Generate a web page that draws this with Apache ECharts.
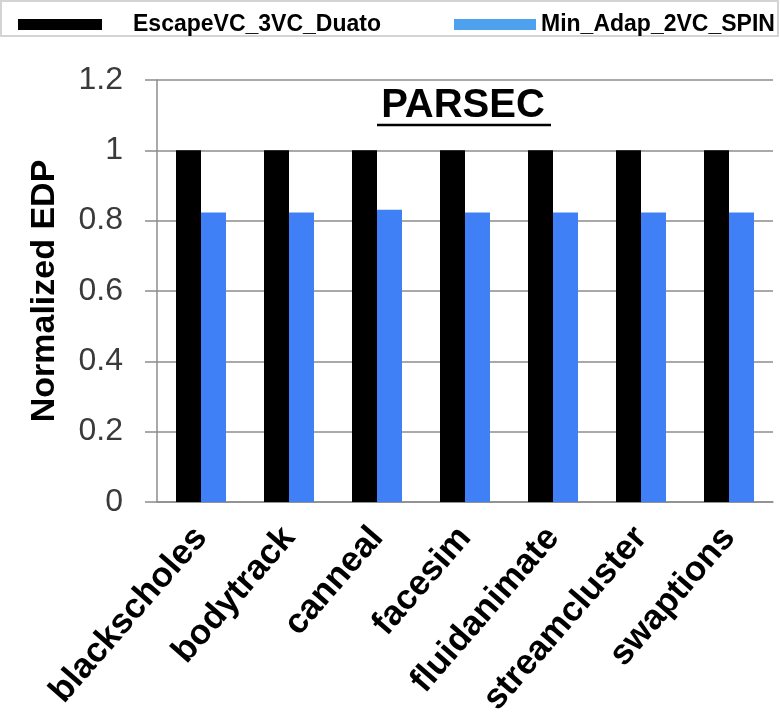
<!DOCTYPE html>
<html>
<head>
<meta charset="utf-8">
<script src="https://cdn.jsdelivr.net/npm/echarts@6/dist/echarts.min.js"></script>
<style>
  html, body { margin: 0; padding: 0; background: #ffffff; }
  #chart { width: 780px; height: 721px; }
</style>
</head>
<body>
<div id="chart"></div>
<script>
// PARSEC benchmarks, EDP normalised to the Duato escape-VC baseline
const benchmarks = ['blackscholes', 'bodytrack', 'canneal', 'facesim', 'fluidanimate', 'streamcluster', 'swaptions'];
const escapeDuato = [1, 1, 1, 1, 1, 1, 1];
const minAdapSpin = [0.823, 0.823, 0.831, 0.823, 0.823, 0.823, 0.823];
const seriesNames = ['EscapeVC_3VC_Duato', 'Min_Adap_2VC_SPIN'];
const yTicks = { min: 0, max: 1.2, step: 0.2 };

const chart = echarts.init(document.getElementById('chart'), null, { renderer: 'canvas' });

const labelFont = 'Liberation Sans, Arial, Helvetica, sans-serif';
const legendText = { fontFamily: labelFont, fontWeight: 'bold', fontSize: 23, color: '#000' };

chart.setOption({
  backgroundColor: '#ffffff',
  animation: false,
  graphic: [
    {
      type: 'rect', z: 0,
      shape: { x: 1, y: 1, width: 777, height: 35 },
      style: { fill: '#ffffff', stroke: '#d4d4d4', lineWidth: 2 }
    },
    {
      type: 'text', z: 10,
      x: 463, y: 106,
      style: {
        text: 'PARSEC', fill: '#000', font: 'bold 40px ' + labelFont,
        align: 'center', verticalAlign: 'middle'
      }
    },
    {
      type: 'line', z: 10,
      shape: { x1: 377, y1: 125, x2: 551, y2: 125 },
      style: { stroke: '#000', lineWidth: 2.5 }
    }
  ],
  legend: [
    {
      data: [{ name: seriesNames[0], itemStyle: { color: '#000000' } }],
      left: 13, top: 8, icon: 'rect', itemWidth: 84, itemHeight: 11,
      textStyle: Object.assign({ padding: [0, 0, 0, 26] }, legendText),
      selectedMode: false
    },
    {
      data: [{ name: seriesNames[1], itemStyle: { color: '#4ea1ef' } }],
      left: 449, top: 8, icon: 'rect', itemWidth: 82, itemHeight: 11,
      textStyle: legendText,
      selectedMode: false
    }
  ],
  grid: { left: 157, right: 7, top: 80, bottom: 219, containLabel: false },
  xAxis: {
    type: 'category',
    data: benchmarks,
    axisLine: { show: true, lineStyle: { color: '#8c8c8c', width: 1.5 } },
    axisTick: { show: false },
    axisLabel: {
      interval: 0, rotate: 49, margin: 30,
      fontFamily: labelFont, fontWeight: 'bold', fontSize: 35, color: '#000'
    }
  },
  yAxis: {
    type: 'value',
    min: yTicks.min, max: yTicks.max, interval: yTicks.step,
    name: 'Normalized EDP',
    nameLocation: 'middle', nameRotate: 90, nameGap: 95,
    nameTextStyle: { fontFamily: labelFont, fontWeight: 'bold', fontSize: 34, color: '#000' },
    axisLine: { show: true, lineStyle: { color: '#8c8c8c', width: 1.5 } },
    axisTick: { show: true, inside: false, length: 12, lineStyle: { color: '#8c8c8c', width: 1.5 } },
    splitLine: { show: true, lineStyle: { color: '#8c8c8c', width: 1.5 } },
    axisLabel: {
      margin: 34, fontFamily: labelFont, fontSize: 32, color: '#3a3a3a'
    }
  },
  series: [
    {
      name: seriesNames[0], type: 'bar', data: escapeDuato,
      barWidth: 25, barGap: '0%',
      itemStyle: { color: '#000000' }
    },
    {
      name: seriesNames[1], type: 'bar', data: minAdapSpin,
      barWidth: 25, barGap: '0%',
      itemStyle: { color: '#3f80f6' }
    }
  ]
});
</script>
</body>
</html>
